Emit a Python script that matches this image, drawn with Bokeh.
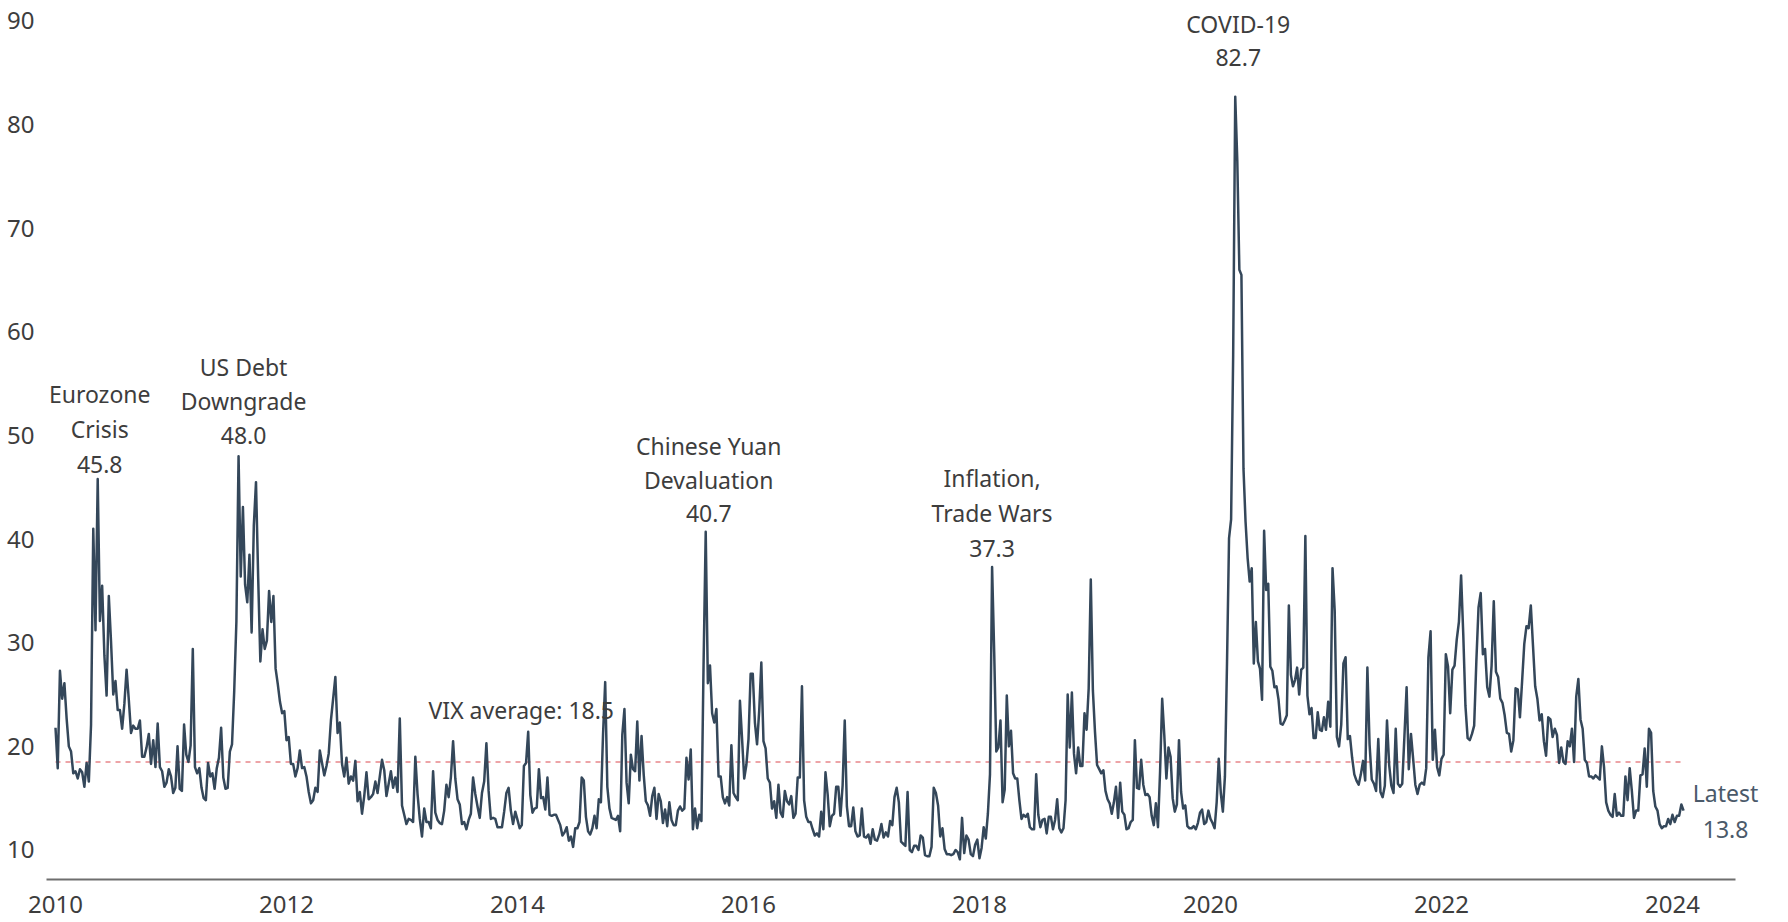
from bokeh.plotting import figure
from bokeh.models import Label, FixedTicker, Range1d
from bokeh.embed import file_html
from bokeh.resources import INLINE

# Approximate weekly VIX closes (spike days kept)
vix_2010 = [21.8, 17.9, 27.3, 24.6, 26.1, 22.7, 20.0, 19.5, 17.4, 17.6, 16.9, 17.8, 17.5, 16.1, 18.4, 16.6,
            22.1, 41.0, 31.2, 45.8, 32.1, 35.5, 28.8, 24.9, 34.5, 30.1, 25.0, 26.3, 23.5, 23.5, 21.7, 24.1,
            27.4, 24.5, 21.3, 22.0, 21.7, 21.7, 22.5, 19.0, 19.0, 19.9, 21.2, 18.3, 20.6, 18.0, 22.2, 18.0,
            17.6, 16.1, 16.5, 17.8]
vix_2011 = [17.1, 15.5, 16.0, 20.0, 15.9, 15.7, 22.1, 19.2, 18.5, 20.1, 29.4, 18.0, 17.4, 17.9, 16.0, 15.0,
            14.8, 18.4, 17.1, 17.4, 15.9, 17.9, 18.9, 21.8, 17.0, 15.9, 16.0, 19.5, 20.2, 25.3, 32.0, 48.0,
            36.4, 43.1, 35.6, 33.9, 38.5, 31.0, 41.3, 45.5, 36.3, 28.2, 31.3, 29.4, 30.2, 35.0, 32.0, 34.5,
            27.5, 26.0, 24.3, 23.2, 23.4]
vix_2012 = [20.6, 20.9, 18.3, 18.3, 17.1, 17.9, 19.6, 17.9, 18.0, 17.1, 15.6, 14.5, 14.8, 16.0, 15.6, 19.6,
            18.4, 17.2, 18.1, 19.3, 22.5, 24.6, 26.7, 21.3, 22.3, 18.3, 17.1, 18.9, 16.4, 17.1, 16.7, 18.6,
            14.7, 15.6, 13.5, 15.2, 17.5, 14.9, 15.1, 15.4, 16.6, 15.5, 17.1, 18.7, 17.7, 15.2, 16.4, 17.6,
            16.0, 17.0, 15.6, 22.7]
vix_2013 = [14.3, 13.4, 12.5, 13.0, 12.9, 12.7, 19.0, 15.4, 13.0, 11.3, 14.0, 12.7, 12.7, 12.1, 17.6, 13.6,
            12.9, 12.6, 12.5, 13.8, 16.3, 15.1, 17.0, 20.5, 16.9, 14.9, 14.4, 12.5, 12.7, 12.0, 12.9, 13.5,
            17.0, 15.4, 14.2, 13.1, 15.5, 16.6, 20.3, 15.7, 13.0, 13.1, 13.0, 12.2, 12.2, 12.2, 13.7, 15.5,
            16.0, 13.8, 12.5, 13.7]
vix_2014 = [12.9, 12.1, 12.4, 18.1, 18.4, 21.4, 15.3, 13.6, 14.0, 14.1, 17.8, 15.0, 15.1, 13.9, 17.0, 13.4,
            13.3, 13.4, 13.4, 12.9, 12.4, 11.4, 11.7, 12.2, 10.9, 11.3, 10.3, 12.1, 12.1, 12.7, 17.0, 16.7,
            13.2, 11.8, 11.5, 12.1, 13.3, 12.1, 14.9, 14.6, 21.2, 26.2, 16.1, 14.0, 13.1, 13.0, 12.9, 13.3,
            11.8, 21.1, 23.6, 16.5, 14.5, 19.2]
vix_2015 = [17.8, 17.6, 22.4, 16.7, 21.0, 17.3, 14.7, 14.3, 13.3, 15.2, 16.0, 13.0, 15.4, 14.7, 12.6, 13.9,
            12.3, 14.6, 12.9, 12.4, 12.4, 13.8, 14.2, 13.8, 14.0, 18.9, 16.8, 19.7, 12.0, 14.0, 12.1, 13.4,
            12.8, 28.0, 40.7, 26.1, 27.8, 23.2, 22.3, 23.6, 17.1, 17.1, 15.1, 14.5, 15.1, 14.3, 20.1, 15.5,
            15.1, 14.8, 24.4, 20.7, 16.9, 18.2]
vix_2016 = [20.7, 27.0, 27.0, 22.3, 20.2, 23.4, 28.1, 20.5, 19.8, 16.9, 16.5, 14.0, 14.7, 13.1, 16.3, 13.6,
            13.2, 15.7, 14.7, 14.4, 15.2, 13.1, 13.5, 17.0, 17.0, 25.8, 14.8, 13.2, 12.7, 12.7, 12.0, 11.4,
            11.6, 11.3, 13.7, 12.0, 17.5, 15.4, 12.3, 13.3, 13.5, 16.1, 16.1, 13.3, 16.2, 22.5, 14.2, 12.3,
            12.3, 14.1, 11.8, 11.3, 11.4, 14.0]
vix_2017 = [11.3, 11.2, 11.5, 10.6, 12.0, 11.0, 10.9, 11.5, 12.5, 11.2, 11.7, 11.3, 12.8, 12.4, 15.1, 16.0,
            14.6, 10.8, 10.6, 10.4, 15.6, 10.0, 9.8, 10.4, 10.4, 10.0, 11.4, 11.2, 9.5, 9.4, 9.4, 10.3,
            16.0, 15.5, 14.3, 11.3, 12.1, 10.1, 9.6, 9.6, 9.5, 9.6, 10.0, 9.8, 9.1, 13.1, 9.7, 11.4,
            11.0, 9.6, 9.4, 10.5, 11.0]
vix_2018 = [9.2, 10.2, 12.2, 11.1, 13.5, 17.3, 37.3, 29.1, 19.5, 19.9, 22.5, 14.6, 15.8, 24.9, 20.0, 21.5,
            17.4, 16.9, 16.9, 14.8, 13.0, 13.4, 13.2, 13.5, 12.2, 12.0, 12.0, 17.3, 13.4, 12.2, 12.9, 13.0,
            11.6, 13.2, 13.2, 12.0, 12.9, 14.9, 12.1, 11.7, 12.1, 14.8, 25.0, 19.9, 25.2, 19.3, 17.4, 19.9,
            18.1, 18.1, 23.2, 21.6, 25.6, 36.1, 25.4]
vix_2019 = [21.4, 18.2, 17.8, 17.4, 17.7, 15.7, 14.9, 14.5, 13.5, 14.6, 16.1, 13.1, 16.5, 13.7, 13.4, 12.0,
            12.1, 12.7, 12.9, 20.6, 16.0, 15.9, 18.7, 16.3, 15.3, 15.4, 15.1, 13.3, 12.4, 14.5, 12.2, 17.6,
            24.6, 21.1, 16.9, 19.9, 19.0, 15.0, 13.7, 14.4, 20.6, 15.6, 14.0, 14.3, 12.3, 12.1, 12.1, 12.3,
            12.0, 12.6, 13.6, 13.9, 12.5, 12.7, 13.8]
vix_2020 = [13.0, 12.6, 12.1, 14.6, 18.8, 15.5, 13.7, 17.1, 27.9, 40.1, 41.9, 57.8, 82.7, 76.5, 66.0, 65.5,
            46.8, 41.7, 38.2, 35.9, 37.2, 28.0, 32.0, 28.2, 27.5, 24.5, 40.8, 35.1, 35.7, 27.7, 27.3, 25.7,
            25.8, 24.5, 22.2, 22.1, 22.5, 23.0, 33.6, 26.9, 25.8, 26.4, 27.6, 25.0, 27.4, 27.6, 40.3, 24.9,
            23.1, 23.7, 20.8, 20.8, 23.3, 21.6, 21.5, 22.8]
vix_2021 = [21.6, 24.3, 21.9, 37.2, 33.1, 20.9, 20.0, 22.1, 28.0, 28.6, 20.7, 21.0, 18.9, 17.3, 16.7, 16.3,
            17.3, 18.6, 16.7, 27.6, 20.2, 16.8, 16.4, 15.7, 20.7, 15.6, 15.1, 16.2, 22.5, 18.2, 16.2, 15.5,
            21.7, 16.4, 16.1, 16.4, 21.0, 25.7, 17.8, 21.2, 18.8, 16.3, 15.4, 16.3, 16.5, 16.3, 17.9, 28.6,
            31.1, 18.7, 21.6, 18.0, 17.2]
vix_2022 = [18.8, 19.2, 28.9, 27.7, 23.2, 27.4, 27.8, 30.3, 32.0, 36.5, 30.8, 23.9, 20.8, 20.6, 21.2, 22.0,
            28.2, 33.4, 34.8, 28.9, 29.4, 25.7, 24.8, 27.8, 34.0, 27.2, 26.7, 24.6, 24.2, 23.0, 21.3, 21.2,
            19.5, 20.6, 25.6, 25.5, 22.8, 26.3, 29.9, 31.6, 31.4, 33.6, 29.7, 25.8, 24.6, 22.5, 23.1, 20.5,
            19.1, 22.8, 22.6, 20.9, 21.7]
vix_2023 = [21.1, 18.4, 19.9, 18.5, 18.3, 20.5, 20.0, 21.7, 18.5, 24.8, 26.5, 22.6, 21.7, 18.7, 18.4, 17.1,
            17.1, 16.9, 17.2, 17.0, 16.8, 20.0, 18.0, 14.6, 13.8, 13.4, 13.2, 15.4, 13.3, 13.6, 13.3, 13.3,
            17.1, 14.8, 17.9, 15.7, 13.1, 13.8, 13.8, 17.2, 17.3, 19.8, 16.1, 21.7, 21.3, 15.7, 14.2, 13.8,
            12.5, 12.1, 12.3, 12.3, 13.0, 12.5]
vix_2024 = [13.4, 12.7, 13.3, 13.3, 14.4, 13.8]

vix_average = 18.5
year_ticks = [2010, 2012, 2014, 2016, 2018, 2020, 2022, 2024]
value_ticks = [10, 20, 30, 40, 50, 60, 70, 80, 90]

years = list(range(2010, 2025))
series = [vix_2010, vix_2011, vix_2012, vix_2013, vix_2014, vix_2015, vix_2016, vix_2017,
          vix_2018, vix_2019, vix_2020, vix_2021, vix_2022, vix_2023, vix_2024]

xs, ys = [], []
year_pos = {}
for yr, vals in zip(years, series):
    n = len(vals) if yr < 2024 else 52
    year_pos[yr] = [yr + i / n for i in range(len(vals))]
    xs.extend(year_pos[yr])
    ys.extend(vals)

LINE = "#34475a"
TXT = "#3d3d3d"
FONT = "Noto Sans"
X0, X1 = 2009.922, 2024.545   # extent of the drawn x axis line

p = figure(width=1780, height=921, output_backend="svg", toolbar_location=None,
           x_range=Range1d(X0, 2024.918), y_range=Range1d(7.153, 91.206),
           min_border_left=46, min_border_right=2, min_border_top=8, min_border_bottom=42)
p.outline_line_color = None
p.xgrid.visible = False
p.ygrid.visible = False
p.background_fill_color = "white"

# average line
p.line([xs[0], xs[-1]], [vix_average, vix_average], line_color="#e8868a",
       line_width=1.5, line_dash="5 5")
# VIX series
p.line(xs, ys, line_color=LINE, line_width=2.5, line_join="round")

xa = p.xaxis[0]
xa.ticker = FixedTicker(ticks=year_ticks)
xa.bounds = (X0, X1)
xa.major_label_overrides = {t: str(t) for t in year_ticks}
xa.axis_line_color = "#6e6e6e"
xa.axis_line_width = 2
xa.major_tick_line_color = None
xa.minor_tick_line_color = None
xa.major_label_standoff = 10
xa.major_label_text_font = FONT
xa.major_label_text_font_size = "24px"
xa.major_label_text_color = TXT

ya = p.yaxis[0]
ya.ticker = FixedTicker(ticks=value_ticks)
ya.axis_line_color = None
ya.major_tick_line_color = None
ya.minor_tick_line_color = None
ya.major_label_standoff = 6
ya.major_label_text_font = FONT
ya.major_label_text_font_size = "24px"
ya.major_label_text_color = TXT

def add_text(x, y, text, xo=0, yo=0, align="center", color=TXT, size="23px"):
    p.add_layout(Label(x=x, y=y, x_offset=xo, y_offset=yo, text=text, text_align=align,
                       text_baseline="middle", text_font=FONT, text_font_size=size,
                       text_color=color))

# (text, year, x offset px, first-line offset px, line spacing px)
events = [("Eurozone\nCrisis", 2010, 2, 15, 35),
          ("US Debt\nDowngrade", 2011, 5, 21, 34),
          ("Chinese Yuan\nDevaluation", 2015, 3, 18, 34),
          ("Inflation,\nTrade Wars", 2018, 0, 19, 35),
          ("COVID-19", 2020, 3, 39, 34)]
for text, yr, dx, off, gap in events:
    vals = series[years.index(yr)]
    idx = max(range(len(vals)), key=lambda i: vals[i])
    px, py = year_pos[yr][idx], vals[idx]
    lines = text.split("\n") + [f"{py:.1f}"]
    for k, line in enumerate(reversed(lines)):
        add_text(px, py, line, xo=dx, yo=off + k * gap)

add_text(2013.23, vix_average, f"VIX average: {vix_average}", yo=52, align="left")

LATEST = "#4b5a6a"
add_text(xs[-1], ys[-1], "Latest", xo=42, yo=18, color=LATEST)
add_text(xs[-1], ys[-1], f"{ys[-1]:.1f}", xo=42, yo=-19, color=LATEST)

open("out.html", "w").write(file_html(p, INLINE))
